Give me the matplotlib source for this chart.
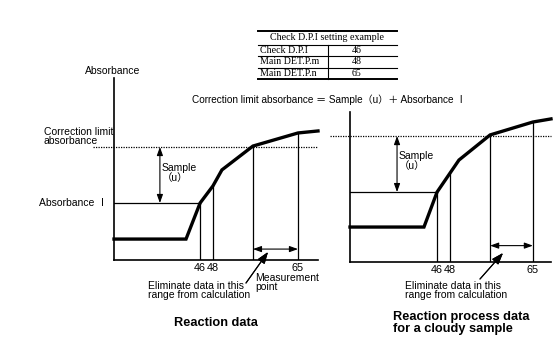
import numpy as np
import matplotlib.pyplot as plt

plt.rcParams['font.family'] = ['Liberation Sans', 'Noto Sans CJK JP']

W, H = 558, 341

# check D.P.I setting example
table_title = 'Check D.P.I setting example'
table_names = ['Check D.P.I', 'Main DET.P.m', 'Main DET.P.n']
table_points = [46, 48, 65]

# reaction curves, time axis 0-100, absorbance in arbitrary units
time_normal = [0, 35.3, 42.2, 48.5, 52.9, 68.1, 90.2, 100]
abs_normal = [11.5, 11.5, 31.3, 40.7, 49.5, 62.6, 69.8, 70.9]
ticks_normal = [42.2, 48.5, 90.2]      # where points 46, 48, 65 fall
meas_start_normal = 68.1
abs1_normal = 31.3

time_cloudy = [0, 36.8, 43.3, 49.8, 54.2, 69.7, 91.0, 100]
abs_cloudy = [19.2, 19.2, 38.4, 48.9, 56.0, 69.8, 76.9, 78.6]
ticks_cloudy = [43.3, 49.8, 91.0]
meas_start_cloudy = 69.7
abs1_cloudy = 38.4

sample_u = 30.8


def px(x, y):
    return x / W, 1 - y / H


fig = plt.figure(figsize=(W / 100, H / 100), dpi=100)

ax1 = fig.add_axes([114 / W, (H - 260) / H, 204 / W, 182 / H])
ax2 = fig.add_axes([350 / W, (H - 262) / H, 201 / W, 150 / H])


def draw_panel(ax, t, a, ticks, meas_start, abs1, ytop, dot_from):
    ax.set_xlim(0, 100)
    ax.set_ylim(0, ytop)
    for s in ['top', 'right']:
        ax.spines[s].set_visible(False)
    for s in ['left', 'bottom']:
        ax.spines[s].set_linewidth(1.2)
    ax.set_yticks([])
    ax.set_xticks(ticks)
    ax.set_xticklabels([str(p) for p in table_points], fontsize=7.8)
    ax.tick_params(axis='x', length=0, pad=2)

    ax.plot(t, a, color='black', lw=2.4, solid_joinstyle='miter', clip_on=False)

    limit = abs1 + sample_u
    ax.plot([dot_from, 100], [limit, limit], color='black', lw=0.9,
            ls=(0, (1, 1)), clip_on=False)
    ax.plot([0, ticks[0]], [abs1, abs1], color='black', lw=0.9)

    for x in ticks + [meas_start]:
        ax.plot([x, x], [0, np.interp(x, t, a)], color='black', lw=0.9)

    return limit


lim1 = draw_panel(ax1, time_normal, abs_normal, ticks_normal,
                  meas_start_normal, abs1_normal, 100, -10.3)
lim2 = draw_panel(ax2, time_cloudy, abs_cloudy, ticks_cloudy,
                  meas_start_cloudy, abs1_cloudy, 82.4, -10)

arr = dict(arrowstyle='<|-|>,head_length=0.5,head_width=0.18', color='black',
           lw=0.8, shrinkA=0, shrinkB=0)

# Sample (u) arrows
ax1.annotate('', xy=(22.5, lim1), xytext=(22.5, abs1_normal), arrowprops=arr)
ax2.annotate('', xy=(23.4, lim2), xytext=(23.4, abs1_cloudy), arrowprops=arr)

# measurement window arrows
ax1.annotate('', xy=(meas_start_normal, 6), xytext=(ticks_normal[2], 6),
             arrowprops=arr)
ax2.annotate('', xy=(meas_start_cloudy, 9), xytext=(ticks_cloudy[2], 9),
             arrowprops=arr)

pointer = dict(arrowstyle='-|>,head_length=0.7,head_width=0.25', color='black',
               lw=0.8, shrinkA=0, shrinkB=0)
fig.add_artist(plt.annotate('', xy=px(268, 252), xytext=px(246, 283),
                            xycoords='figure fraction',
                            textcoords='figure fraction', arrowprops=pointer))
fig.add_artist(plt.annotate('', xy=px(503, 253), xytext=px(480, 279),
                            xycoords='figure fraction',
                            textcoords='figure fraction', arrowprops=pointer))

fs = 7.5
fig.text(*px(113, 71), 'Absorbance', fontsize=fs, ha='center', va='center')
fig.text(*px(44, 127), 'Correction limit\nabsorbance', fontsize=fs,
         ha='left', va='top', linespacing=0.85)
fig.text(*px(108, 203), 'Absorbance Ⅰ', fontsize=fs, ha='right', va='center')
fig.text(*px(162, 163), 'Sample\n（u）', fontsize=fs, ha='left', va='top',
         linespacing=1.0)
fig.text(*px(399, 151), 'Sample\n（u）', fontsize=fs, ha='left', va='top',
         linespacing=1.0)
fig.text(*px(255, 273), 'Measurement\npoint', fontsize=fs, ha='left',
         va='top', linespacing=0.9)
fig.text(*px(148, 281), 'Eliminate data in this\nrange from calculation',
         fontsize=fs, ha='left', va='top', linespacing=0.9)
fig.text(*px(405, 281), 'Eliminate data in this\nrange from calculation',
         fontsize=fs, ha='left', va='top', linespacing=0.9)
fig.text(*px(216, 323), 'Reaction data', fontsize=9.2, fontweight='bold',
         ha='center', va='center')
fig.text(*px(393, 323), 'Reaction process data\nfor a cloudy sample',
         fontsize=9.2, fontweight='bold', ha='left', va='center',
         linespacing=0.9)
fig.text(*px(192, 100), 'Correction limit absorbance ＝ Sample（u）＋ Absorbance Ⅰ',
         fontsize=7.2, ha='left', va='center')

# settings table
tx0, tx1, tdiv = 258, 397, 328
rows_y = [31, 45, 56, 68, 79]
for i, y in enumerate(rows_y):
    lw = 1.4 if i in (0, len(rows_y) - 1) else 0.8
    fig.add_artist(plt.Line2D([tx0 / W, tx1 / W], [1 - y / H, 1 - y / H],
                              color='black', lw=lw))
fig.add_artist(plt.Line2D([tdiv / W, tdiv / W],
                          [1 - rows_y[1] / H, 1 - rows_y[-1] / H],
                          color='black', lw=0.8))
fig.text(*px((tx0 + tx1) / 2, (rows_y[0] + rows_y[1]) / 2), table_title,
         family='Liberation Serif', fontsize=7.2, ha='center', va='center')
for i, (name, val) in enumerate(zip(table_names, table_points)):
    yc = (rows_y[i + 1] + rows_y[i + 2]) / 2
    fig.text(*px(tx0 + 2, yc), name, family='Liberation Serif', fontsize=7.2,
             ha='left', va='center')
    fig.text(*px(357, yc), str(val), family='Liberation Serif', fontsize=7.2,
             ha='center', va='center')

fig.savefig('out.png', dpi=100)
